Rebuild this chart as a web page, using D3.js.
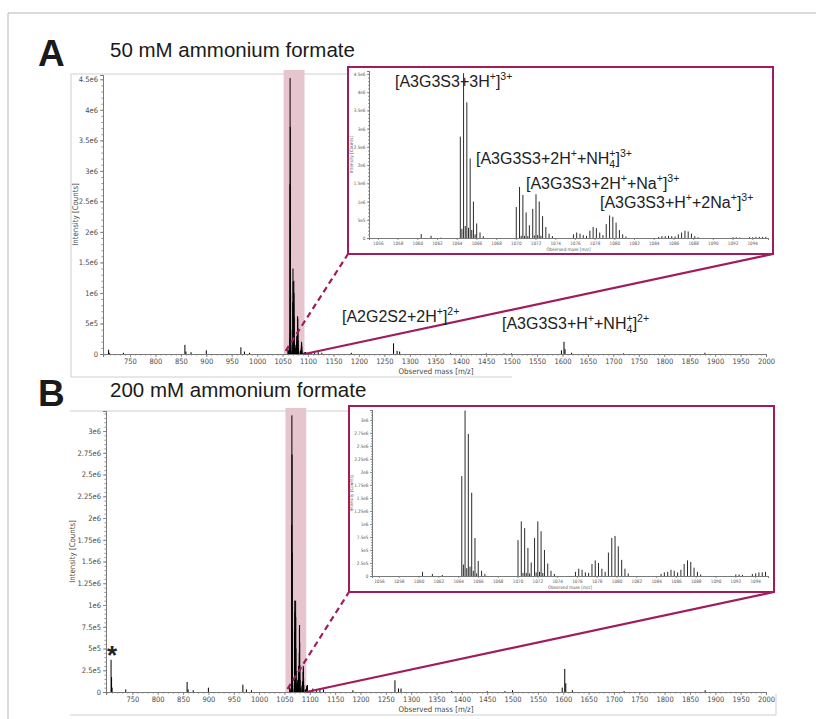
<!DOCTYPE html>
<html>
<head>
<meta charset="utf-8">
<script src="https://cdn.jsdelivr.net/npm/d3@7"></script>
<style>
  body { margin: 0; background: #fff; }
  svg { display: block; }
</style>
</head>
<body>
<div id="chart"></div>
<script>
// ---- data (intensities in millions of counts) ----
// isotope clusters around m/z 1060-1095 (shown in main spectra and insets)
const clusterMz = [
  1060.40, 1061.40, 1062.40,
  1064.37, 1064.53, 1064.70, 1064.87, 1065.03, 1065.20, 1065.37, 1065.53, 1065.70, 1065.87, 1066.03, 1066.37, 1066.70,
  1070.05, 1070.38, 1070.55, 1070.72, 1070.88, 1071.05, 1071.22, 1071.38, 1071.72, 1071.88, 1072.05, 1072.22, 1072.38, 1072.55, 1072.72, 1073.05, 1073.38, 1073.72,
  1075.85, 1076.18, 1076.52, 1076.85, 1077.18, 1077.52, 1077.85, 1078.18, 1078.52, 1078.85, 1079.18, 1079.52, 1079.85, 1080.18, 1080.52, 1080.85, 1081.18,
  1084.50, 1084.83, 1085.17, 1085.50, 1085.83, 1086.17, 1086.50, 1086.83, 1087.17, 1087.50, 1087.83, 1088.17, 1088.50,
  1092.05, 1092.38, 1092.72, 1093.72, 1094.05, 1094.38, 1094.72, 1095.05, 1095.38
];
const clusterA = [
  0.11, 0.06, 0.01,
  2.78, 0.25, 4.52, 0.33, 3.72, 0.28, 2.18, 0.22, 1.0, 0.1, 0.4, 0.15, 0.05,
  0.85, 1.4, 0.06, 1.18, 0.06, 0.7, 0.05, 0.35, 0.8, 0.07, 1.2, 0.08, 1.0, 0.06, 0.6, 0.3, 0.12, 0.05,
  0.1, 0.15, 0.12, 0.08, 0.06, 0.2, 0.3, 0.27, 0.15, 0.08, 0.38, 0.62, 0.58, 0.42, 0.22, 0.1, 0.04,
  0.03, 0.05, 0.05, 0.06, 0.05, 0.04, 0.1, 0.15, 0.2, 0.18, 0.12, 0.05, 0.02,
  0.02, 0.02, 0.01, 0.02, 0.02, 0.03, 0.03, 0.03, 0.03
];
const clusterB = [
  0.08, 0.04, 0.02,
  1.92, 0.22, 3.18, 0.15, 2.73, 0.18, 1.6, 0.1, 0.73, 0.05, 0.29, 0.1, 0.04,
  0.69, 1.05, 0.06, 0.92, 0.06, 0.54, 0.05, 0.26, 0.73, 0.07, 1.05, 0.08, 0.86, 0.06, 0.5, 0.24, 0.1, 0.04,
  0.08, 0.14, 0.12, 0.07, 0.06, 0.23, 0.3, 0.25, 0.14, 0.08, 0.45, 0.73, 0.77, 0.57, 0.31, 0.14, 0.05,
  0.04, 0.07, 0.08, 0.12, 0.1, 0.07, 0.12, 0.23, 0.3, 0.27, 0.16, 0.08, 0.03,
  0.03, 0.03, 0.02, 0.04, 0.05, 0.07, 0.07, 0.08, 0.08
];
// other peaks of the full-range spectra
const otherMz = [708, 709, 710, 737, 858, 860, 870, 900, 968, 975, 985, 1106, 1113, 1120, 1127, 1185,
  1268, 1275, 1280, 1380, 1450, 1485, 1500, 1598, 1603, 1605, 1618, 1720, 1880];
const otherA = [0.07, 0.02, 0.01, 0.02, 0.15, 0.04, 0.03, 0.06, 0.11, 0.04, 0.02, 0.03, 0.02, 0.03, 0.02, 0.02,
  0.175, 0.05, 0.04, 0.01, 0.01, 0.01, 0.01, 0.06, 0.2, 0.08, 0.02, 0.01, 0.02];
const otherB = [0.37, 0.17, 0.05, 0.03, 0.115, 0.03, 0.02, 0.05, 0.085, 0.03, 0.02, 0.04, 0.03, 0.04, 0.03, 0.02,
  0.134, 0.04, 0.04, 0.01, 0.01, 0.01, 0.02, 0.05, 0.265, 0.1, 0.02, 0.01, 0.02];

// zoom window shown as pink band
const zoomWindow = [1052, 1093];

// tick labels
const xTicksMain = [750, 800, 850, 900, 950, 1000, 1050, 1100, 1150, 1200, 1250, 1300, 1350, 1400, 1450,
  1500, 1550, 1600, 1650, 1700, 1750, 1800, 1850, 1900, 1950, 2000];
const xTicksInset = [1056, 1058, 1060, 1062, 1064, 1066, 1068, 1070, 1072, 1074, 1076, 1078, 1080,
  1082, 1084, 1086, 1088, 1090, 1092, 1094];
const yTicksA = [0, 0.5, 1, 1.5, 2, 2.5, 3, 3.5, 4, 4.5];
const yTicksB = [0, 0.25, 0.5, 0.75, 1, 1.25, 1.5, 1.75, 2, 2.25, 2.5, 2.75, 3];

// annotation texts: [text, kind]  kind: null | 'sup' | 'sub' | 'over' (superscript stacked over previous subscript)
const labelsA = [
  [["[A3G3S3+3H"], ["+", "sup"], ["]"], ["3+", "sup"]],
  [["[A3G3S3+2H"], ["+", "sup"], ["+NH"], ["4", "sub"], ["+", "over"], ["]"], ["3+", "sup"]],
  [["[A3G3S3+2H"], ["+", "sup"], ["+Na"], ["+", "sup"], ["]"], ["3+", "sup"]],
  [["[A3G3S3+H"], ["+", "sup"], ["+2Na"], ["+", "sup"], ["]"], ["3+", "sup"]],
  [["[A2G2S2+2H"], ["+", "sup"], ["]"], ["2+", "sup"]],
  [["[A3G3S3+H"], ["+", "sup"], ["+NH"], ["4", "sub"], ["+", "over"], ["]"], ["2+", "sup"]]
];

// ---- drawing ----
const W = 816, H = 719;
const ACCENT = "#a01c5c";
const PINK = "#e6c5cf";
const NARROW = "'Liberation Sans Narrow', 'DejaVu Sans Condensed', 'Liberation Sans', sans-serif";
const SANS = "'Liberation Sans', Arial, Helvetica, sans-serif";

const svg = d3.select("#chart").append("svg")
  .attr("width", W)
  .attr("height", H);

// page border
svg.append("path")
  .attr("d", `M8,${H} V13 H${W}`)
  .attr("fill", "none")
  .attr("stroke", "#b5b5b5")
  .attr("stroke-width", 1);

const fmtE = v => {
  if (v === 0) return "0";
  if (v >= 1) return `${+v.toFixed(2)}e6`;
  return `${+(v * 10).toFixed(2)}e5`;
};

function toPeaks(mz, inten) {
  return mz.map((m, i) => ({ mz: m, v: inten[i] }));
}

function styleAxis(sel, size, color) {
  sel.select(".domain").attr("stroke", "#7a7a7a").attr("stroke-width", 1);
  sel.selectAll(".tick line").attr("stroke", "#7a7a7a").attr("stroke-width", 0.8);
  sel.selectAll(".tick text")
    .attr("fill", color)
    .attr("font-size", size)
    .attr("font-family", NARROW);
  sel.attr("font-family", null).attr("font-size", null);
}

function drawAxes(g, x, y, o) {
  const [x0, x1] = x.domain();
  const [y0, y1] = y.domain();
  // minor ticks
  g.append("g")
    .attr("transform", `translate(0,${y(0)})`)
    .call(d3.axisBottom(x).tickValues(d3.range(Math.ceil(x0 / o.xMinor) * o.xMinor, x1, o.xMinor))
      .tickSize(o.minorLen).tickFormat(""))
    .call(s => styleAxis(s, o.fs, o.color));
  g.append("g")
    .attr("transform", `translate(${x.range()[0]},0)`)
    .call(d3.axisLeft(y).tickValues(d3.range(0, y1, o.yMinor)).tickSize(o.minorLen).tickFormat(""))
    .call(s => styleAxis(s, o.fs, o.color));
  // major ticks
  g.append("g")
    .attr("transform", `translate(0,${y(0)})`)
    .call(d3.axisBottom(x).tickValues(o.xTicks).tickSize(o.majorLen).tickPadding(o.pad)
      .tickFormat(d3.format("d")))
    .call(s => styleAxis(s, o.fs, o.color));
  g.append("g")
    .attr("transform", `translate(${x.range()[0]},0)`)
    .call(d3.axisLeft(y).tickValues(o.yTicks).tickSize(o.majorLen).tickPadding(o.pad).tickFormat(fmtE))
    .call(s => styleAxis(s, o.fs, o.color));
}

function drawPeaks(g, x, y, peaks, color, width) {
  const [d0, d1] = x.domain();
  g.append("g").selectAll("line")
    .data(peaks.filter(p => p.mz >= d0 && p.mz <= d1))
    .join("line")
    .attr("x1", d => x(d.mz))
    .attr("x2", d => x(d.mz))
    .attr("y1", y(0))
    .attr("y2", d => y(d.v))
    .attr("stroke", color)
    .attr("stroke-width", width);
}

function richLabel(g, px, py, parts, size) {
  const t = g.append("text")
    .attr("x", px).attr("y", py)
    .attr("font-family", SANS)
    .attr("font-size", size)
    .attr("fill", "#222");
  let shift = 0;
  let lastSubW = 0;
  parts.forEach(([str, kind]) => {
    const small = size * 0.66;
    let target = 0, dx = 0;
    if (kind === "sup" || kind === "over") target = -0.42 * size;
    if (kind === "sub") target = 0.25 * size;
    if (kind === "over") dx = -lastSubW;
    const ts = t.append("tspan")
      .attr("dy", target - shift)
      .attr("font-size", kind ? small : size)
      .text(str);
    if (dx) ts.attr("dx", dx);
    lastSubW = kind === "sub" ? small * 0.556 * str.length : 0;
    shift = target;
  });
}

function drawPanel(p) {
  const g = svg.append("g");

  // panel letter and title
  g.append("text").attr("x", p.letterX).attr("y", p.letterY)
    .attr("font-family", SANS).attr("font-weight", "bold").attr("font-size", 37)
    .attr("fill", "#1a1a1a").text(p.letter);
  g.append("text").attr("x", 110).attr("y", p.titleY)
    .attr("font-family", SANS).attr("font-size", 20.5)
    .attr("fill", "#1a1a1a").text(p.title);

  // screenshot frame
  g.append("path").attr("d", p.frame)
    .attr("fill", "none").attr("stroke", "#cfcfcf").attr("stroke-width", 1);

  const x = d3.scaleLinear().domain(p.xDomain).range([p.left, p.right]);
  const y = d3.scaleLinear().domain(p.yDomain).range([p.bottom, p.top]);

  // pink zoom band
  g.append("rect")
    .attr("x", x(zoomWindow[0]))
    .attr("y", p.bandTop)
    .attr("width", x(zoomWindow[1]) - x(zoomWindow[0]))
    .attr("height", y(0) - p.bandTop)
    .attr("fill", PINK);

  drawPeaks(g, x, y, p.peaks, "#000", 1);

  drawAxes(g, x, y, {
    xTicks: xTicksMain, yTicks: p.yTicks, xMinor: 10, yMinor: p.yMinor,
    majorLen: 3, minorLen: 1.6, pad: 2, fs: 7.5, color: "#4a4a4a"
  });

  g.append("text")
    .attr("transform", `translate(${p.yTitleX},${(p.top + p.bottom) / 2}) rotate(-90)`)
    .attr("text-anchor", "middle")
    .attr("font-family", NARROW).attr("font-size", 7.8).attr("fill", "#4a4a4a")
    .text("Intensity [Counts]");
  g.append("text")
    .attr("x", 436).attr("y", p.xTitleY)
    .attr("text-anchor", "middle")
    .attr("font-family", NARROW).attr("font-size", 7.8).attr("fill", "#4a4a4a")
    .text("Observed mass [m/z]");

  // connector lines
  const b = p.box;
  g.append("line")
    .attr("x1", x(zoomWindow[0]) + 2).attr("y1", y(0) - 3)
    .attr("x2", b.x0).attr("y2", b.y1)
    .attr("stroke", ACCENT).attr("stroke-width", 2.2)
    .attr("stroke-dasharray", "6,4");
  g.append("line")
    .attr("x1", x(zoomWindow[1])).attr("y1", y(0))
    .attr("x2", b.x1).attr("y2", b.y1)
    .attr("stroke", ACCENT).attr("stroke-width", 2.2);

  // inset
  g.append("rect")
    .attr("x", b.x0).attr("y", b.y0)
    .attr("width", b.x1 - b.x0).attr("height", b.y1 - b.y0)
    .attr("fill", "#fff").attr("stroke", ACCENT).attr("stroke-width", 2);

  const ix = d3.scaleLinear().domain(p.ixDomain).range([p.ileft, p.iright]);
  const iy = d3.scaleLinear().domain(p.iyDomain).range([p.ibottom, p.itop]);
  drawPeaks(g, ix, iy, p.inset, "#2b2b2b", 1);
  drawAxes(g, ix, iy, {
    xTicks: xTicksInset, yTicks: p.yTicks, xMinor: 0.5, yMinor: p.yMinor,
    majorLen: 2, minorLen: 1, pad: 1.5, fs: 4.6, color: "#555"
  });
  g.append("text")
    .attr("transform", `translate(${p.iyTitleX},${(p.itop + p.ibottom) / 2}) rotate(-90)`)
    .attr("text-anchor", "middle")
    .attr("font-family", NARROW).attr("font-size", 4.6).attr("fill", "#555")
    .text("Intensity [Counts]");
  g.append("text")
    .attr("x", (p.ileft + p.iright) / 2).attr("y", p.ibottom + 13)
    .attr("text-anchor", "middle")
    .attr("font-family", NARROW).attr("font-size", 4.6).attr("fill", "#555")
    .text("Observed mass [m/z]");

  return g;
}

const gA = drawPanel({
  letter: "A", letterX: 38, letterY: 66, title: "50 mM ammonium formate", titleY: 57,
  frame: "M71,377 V74 H348 M71,377 H512",
  left: 103, right: 766, top: 75, bottom: 354,
  xDomain: [697, 2000], yDomain: [0, 4.57], yTicks: yTicksA, yMinor: 0.1,
  bandTop: 70, xTitleY: 374, yTitleX: 78,
  peaks: toPeaks(clusterMz, clusterA).concat(toPeaks(otherMz, otherA)),
  box: { x0: 348, y0: 67, x1: 773, y1: 254 },
  ileft: 369, iright: 768, itop: 71, ibottom: 238, iyTitleX: 353,
  ixDomain: [1055.1, 1095.6], iyDomain: [0, 4.58],
  inset: toPeaks(clusterMz, clusterA)
});

const gB = drawPanel({
  letter: "B", letterX: 38, letterY: 406, title: "200 mM ammonium formate", titleY: 397,
  frame: "M70,411 H349 M70,715 H776 V694",
  left: 106, right: 766, top: 411, bottom: 692,
  xDomain: [698, 2000], yDomain: [0, 3.23], yTicks: yTicksB, yMinor: 0.05,
  bandTop: 408, xTitleY: 712, yTitleX: 75,
  peaks: toPeaks(clusterMz, clusterB).concat(toPeaks(otherMz, otherB)),
  box: { x0: 349, y0: 406, x1: 774, y1: 592 },
  ileft: 372, iright: 768, itop: 410, ibottom: 576, iyTitleX: 353,
  ixDomain: [1055.3, 1095.3], iyDomain: [0, 3.19],
  inset: toPeaks(clusterMz, clusterB)
});

// annotations
const ann = svg.append("g");
richLabel(ann, 395, 87, labelsA[0], 16);
richLabel(ann, 476, 164, labelsA[1], 16);
richLabel(ann, 526, 189, labelsA[2], 16);
richLabel(ann, 600, 208, labelsA[3], 16);
richLabel(ann, 342, 322, labelsA[4], 16);
richLabel(ann, 502, 329, labelsA[5], 16);

// asterisk on the m/z 708 peak of panel B
ann.append("text")
  .attr("x", 112).attr("y", 664)
  .attr("text-anchor", "middle")
  .attr("font-family", SANS).attr("font-weight", "bold").attr("font-size", 26)
  .attr("fill", "#222")
  .text("*");
</script>
</body>
</html>
